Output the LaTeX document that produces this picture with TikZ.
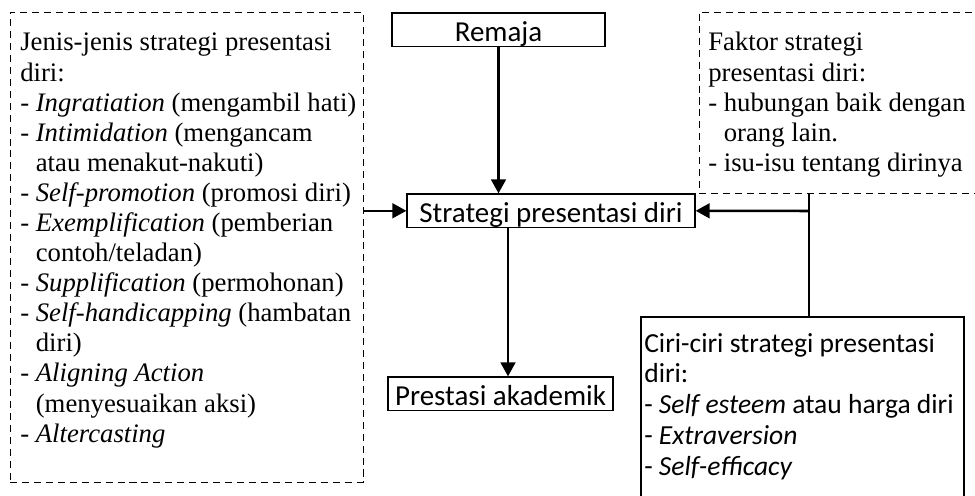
\documentclass[tikz,border=0pt]{standalone}
\usepackage{fontspec}
\setmainfont{Liberation Serif}
\newfontfamily\calibri{Carlito}
\usetikzlibrary{arrows.meta}

\tikzset{
  dashbox/.style={draw=black, line width=0.7pt, dash pattern=on 5pt off 3.5pt, inner sep=0pt},
  solidbox/.style={draw=black, line width=0.9pt, inner sep=0pt},
  labelbox/.style={draw=black, line width=0.9pt, inner xsep=0pt, inner ysep=0pt,
    text height=.72cm, text depth=.12cm, font=\calibri\fontsize{20.6}{24}\selectfont},
  listtext/.style={anchor=base west, inner sep=0pt, text width=11cm, align=left,
    execute at begin node={\spaceskip=0pt\xspaceskip=0pt}},
  link/.style={line width=1.8pt},
  arrowlink/.style={line width=1.8pt, -{Triangle[length=10pt,width=10.5pt]}}
}

\begin{document}
\begin{tikzpicture}
    \useasboundingbox (0,0) rectangle (24.375,12.375);

    % frames
    \node[dashbox, minimum width=8.825cm, minimum height=11.75cm] (jenis) at (4.6625,6.2) {};
    \node[dashbox, minimum width=7.125cm, minimum height=4.525cm] (faktor) at (21.0375,9.8125) {};
    \node[solidbox, minimum width=8.075cm, minimum height=4.95cm] (ciri) at (20.0625,1.975) {};

    % main boxes
    \node[labelbox, anchor=base, minimum width=5.325cm] (remaja) at (12.4625,11.33) {Remaja};
    \node[labelbox, anchor=base, minimum width=7.2cm] (strategi) at (13.775,6.805) {Strategi presentasi diri};
    \node[labelbox, anchor=base, minimum width=5.625cm] (prestasi) at (12.5125,2.23) {Prestasi akademik};

    % lists
    \node[listtext, font=\fontsize{19}{21.4}\selectfont] (jenistext) at (0.5,11.1) {%
      Jenis-jenis strategi presentasi\\
      diri:\\
      - \textit{Ingratiation} (mengambil hati)\\
      - \textit{Intimidation} (mengancam\\
      \phantom{- }atau menakut-nakuti)\\
      - \textit{Self-promotion} (promosi diri)\\
      - \textit{Exemplification} (pemberian\\
      \phantom{- }contoh/teladan)\\
      - \textit{Supplification} (permohonan)\\
      - \textit{Self-handicapping} (hambatan\\
      \phantom{- }diri)\\
      - \textit{Aligning Action}\\
      \phantom{- }(menyesuaikan aksi)\\
      - \textit{Altercasting}};
    \node[listtext, font=\fontsize{19}{21.4}\selectfont] (faktortext) at (17.7,11.1) {%
      Faktor strategi\\
      presentasi diri:\\
      - hubungan baik dengan\\
      \phantom{- }orang lain.\\
      - isu-isu tentang dirinya};
    \node[listtext, font=\calibri\fontsize{19.6}{21.9}\selectfont] (ciritext) at (16.1,3.575) {%
      Ciri-ciri strategi presentasi\\
      diri:\\
      - \textit{Self esteem} atau harga diri\\
      - \textit{Extraversion}\\
      - \textit{Self-efficacy}};

    % connectors
    \coordinate (downx) at (12.7,0);
    \coordinate (joint) at (20.225,7.1);
    \draw[arrowlink] (remaja.south) -- (remaja.south |- strategi.north);
    \draw[arrowlink] (strategi.south -| downx) -- (prestasi.north -| downx);
    \draw[arrowlink] (jenis.east |- strategi) -- (strategi.west);
    \draw[link] (faktor.south -| joint) -- (ciri.north -| joint);
    \draw[arrowlink] (joint) -- (strategi.east);
\end{tikzpicture}
\end{document}
